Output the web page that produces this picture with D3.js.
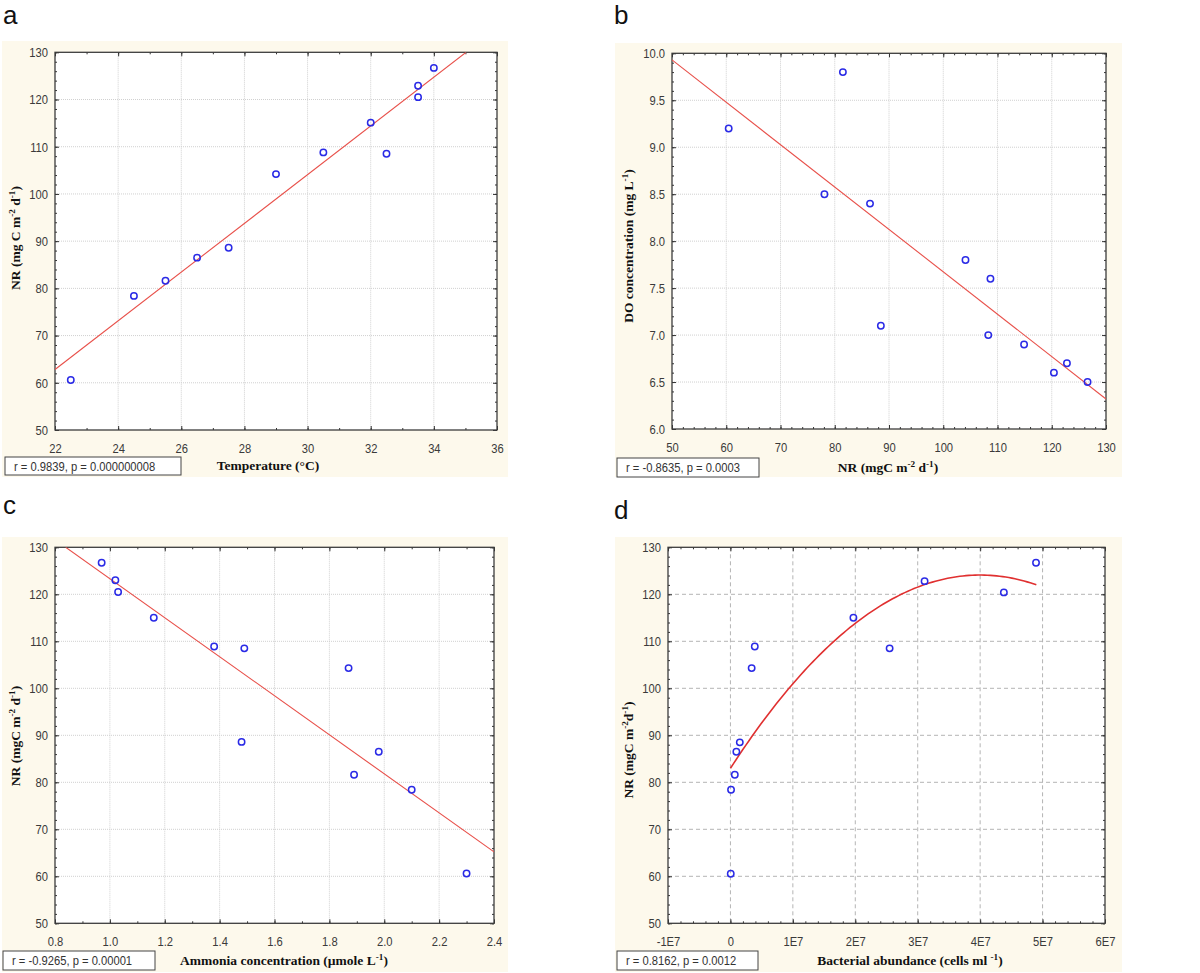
<!DOCTYPE html>
<html><head><meta charset="utf-8">
<script src="https://cdn.jsdelivr.net/npm/d3@7"></script>
<style>body{margin:0;background:#fff}svg{display:block}</style>
</head><body>
<svg id="chart" width="1200" height="973"></svg>
<script>
// ---------- data ----------
const tempA = [22.5, 24.5, 25.5, 26.5, 27.5, 29, 30.5, 32, 32.5, 33.5, 33.5, 34];
const nrA   = [60.6, 78.4, 81.6, 86.5, 88.6, 104.2, 108.8, 115.1, 108.5, 122.9, 120.5, 126.7];
const fitA  = [[22, 62.8], [35.02, 130]];

const nrB   = [60.45, 78.1, 81.5, 86.5, 88.5, 104.1, 108.7, 108.3, 114.9, 120.4, 122.8, 126.6];
const doB   = [9.2, 8.5, 9.8, 8.4, 7.1, 7.8, 7.6, 7.0, 6.9, 6.6, 6.7, 6.5];
const fitB  = [[50, 9.93], [130, 6.32]];

const ammC  = [0.97, 1.02, 1.03, 1.16, 1.38, 1.49, 1.48, 1.87, 1.89, 1.98, 2.10, 2.30];
const nrC   = [126.7, 123.0, 120.5, 115.0, 108.9, 108.5, 88.6, 104.3, 81.6, 86.5, 78.4, 60.6];
const fitC  = [[0.839, 130], [2.4, 65.2]];

const bactD = [0.05e6, 0.1e6, 0.7e6, 0.95e6, 1.5e6, 3.4e6, 3.9e6, 19.7e6, 25.5e6, 31.1e6, 43.8e6, 48.95e6];
const nrD   = [60.55, 78.4, 81.6, 86.5, 88.5, 104.3, 108.9, 115.0, 108.5, 122.8, 120.4, 126.7];
const fitD  = [82.98, 20.56, -2.57];   // quadratic in units of 1E7
const fitDRange = [0, 4.9e7];

const ticksNR   = [50, 60, 70, 80, 90, 100, 110, 120, 130];
const ticksTemp = [22, 24, 26, 28, 30, 32, 34, 36];
const ticksNRx  = [50, 60, 70, 80, 90, 100, 110, 120, 130];
const ticksDO   = [6.0, 6.5, 7.0, 7.5, 8.0, 8.5, 9.0, 9.5, 10.0];
const ticksAmm  = [0.8, 1.0, 1.2, 1.4, 1.6, 1.8, 2.0, 2.2, 2.4];
const ticksBact = [-1e7, 0, 1e7, 2e7, 3e7, 4e7, 5e7, 6e7];
const bactLabels = ["-1E7", "0", "1E7", "2E7", "3E7", "4E7", "5E7", "6E7"];

const statsText = ["r = 0.9839, p = 0.000000008", "r = -0.8635, p = 0.0003", "r = -0.9265, p = 0.00001", "r = 0.8162, p = 0.0012"];
const panelLetters = ["a", "b", "c", "d"];

// ---------- drawing ----------
const svg = d3.select("#chart");
const SERIF = "'Liberation Serif','Times New Roman',serif";
const SANS = "'Liberation Sans',Arial,sans-serif";
const SQX = 0.83;   // horizontal squeeze to mimic the narrow label font

function richText(g, parts) {
  parts.forEach(([t, sup]) => {
    const ts = g.append("tspan").text(t);
    if (sup) ts.attr("baseline-shift", "super").attr("font-size", "0.68em");
  });
}

const panels = [
  { ox: 0, oy: 0, bg: [2, 41, 506, 436], L: 55, R: 497, T: 52.3, B: 430,
    xs: tempA, ys: nrA, xDom: [22, 36], yDom: [50, 130], xt: ticksTemp, yt: ticksNR,
    xMinor: 2, yMinor: 5, xFmt: d => d, yFmt: d => d, grid: "dot",
    fit: fitA, stat: [5, 457, 176, 18], letter: [3, 24],
    xTitle: [["Temperature (°C)", false]], xTitleX: 268, xTitleY: 470,
    yTitle: [["NR (mg C m", false], ["-2", true], [" d", false], ["-1", true], [")", false]], yTitleX: 20, yTitleY: 238 },
  { ox: 600, oy: 0, bg: [15, 43, 507, 434], L: 72, R: 506, T: 53.3, B: 429,
    xs: nrB, ys: doB, xDom: [50, 130], yDom: [6, 10], xt: ticksNRx, yt: ticksDO,
    xMinor: 5, yMinor: 5, xFmt: d => d, yFmt: d3.format(".1f"), grid: "dot",
    fit: fitB, stat: [17, 458, 142, 19], letter: [14, 24],
    xTitle: [["NR (mgC m", false], ["-2", true], [" d", false], ["-1", true], [")", false]], xTitleX: 288, xTitleY: 472,
    yTitle: [["DO concentration (mg L", false], ["-1", true], [")", false]], yTitleX: 33, yTitleY: 246 },
  { ox: 0, oy: 490, bg: [2, 47, 506, 435], L: 55, R: 494, T: 57.3, B: 433.3,
    xs: ammC, ys: nrC, xDom: [0.8, 2.4], yDom: [50, 130], xt: ticksAmm, yt: ticksNR,
    xMinor: 2, yMinor: 5, xFmt: d3.format(".1f"), yFmt: d => d, grid: "dot",
    fit: fitC, stat: [3, 461, 152, 19], letter: [3, 24],
    xTitle: [["Ammonia concentration (µmole L", false], ["-1", true], [")", false]], xTitleX: 284, xTitleY: 475,
    yTitle: [["NR (mgC m", false], ["-2", true], [" d", false], ["-1", true], [")", false]], yTitleX: 20, yTitleY: 246 },
  { ox: 600, oy: 490, bg: [15, 47, 507, 435], L: 68, R: 505, T: 57.3, B: 433.3,
    xs: bactD, ys: nrD, xDom: [-1e7, 6e7], yDom: [50, 130], xt: ticksBact, yt: ticksNR,
    xMinor: 5, yMinor: 5, xFmt: (d, i) => bactLabels[i], yFmt: d => d, grid: "dash",
    fitQuad: fitD, stat: [17, 461, 141, 19], letter: [14, 29],
    xTitle: [["Bacterial abundance (cells ml ", false], ["-1", true], [")", false]], xTitleX: 310, xTitleY: 475,
    yTitle: [["NR (mgC m", false], ["-2", true], ["d", false], ["-1", true], [")", false]], yTitleX: 33, yTitleY: 260 }
];

panels.forEach((p, pi) => {
  const g = svg.append("g").attr("transform", `translate(${p.ox},${p.oy})`);
  g.append("rect").attr("x", p.bg[0]).attr("y", p.bg[1]).attr("width", p.bg[2]).attr("height", p.bg[3])
    .attr("fill", "#fdf9ec");
  g.append("rect").attr("x", p.L).attr("y", p.T).attr("width", p.R - p.L).attr("height", p.B - p.T)
    .attr("fill", "#ffffff");

  const x = d3.scaleLinear().domain(p.xDom).range([p.L, p.R]);
  const y = d3.scaleLinear().domain(p.yDom).range([p.B, p.T]);

  // grid
  const gridStroke = p.grid === "dash" ? "#b4b4b4" : "#d0d0d0";
  const gridDash = p.grid === "dash" ? "4,3" : "1,1";
  const gg = g.append("g");
  p.xt.slice(1, -1).forEach(v => gg.append("line").attr("x1", x(v)).attr("x2", x(v)).attr("y1", p.T).attr("y2", p.B)
    .attr("stroke", gridStroke).attr("stroke-dasharray", gridDash).attr("stroke-width", 1));
  p.yt.slice(1, -1).forEach(v => gg.append("line").attr("y1", y(v)).attr("y2", y(v)).attr("x1", p.L).attr("x2", p.R)
    .attr("stroke", gridStroke).attr("stroke-dasharray", gridDash).attr("stroke-width", 1));

  const axStyle = a => {
    a.select(".domain").remove();
    a.selectAll("line").attr("stroke", "#333").attr("stroke-width", 1);
  };
  const xStep = (p.xt[1] - p.xt[0]) / p.xMinor;
  const yStep = (p.yt[1] - p.yt[0]) / p.yMinor;
  const xMinorVals = d3.range(p.xMinor * (p.xt.length - 1) + 1).map(i => p.xDom[0] + i * xStep);
  const yMinorVals = d3.range(p.yMinor * (p.yt.length - 1) + 1).map(i => p.yDom[0] + i * yStep);

  // minor ticks (inward, all four sides)
  g.append("g").attr("transform", `translate(0,${p.B})`).call(d3.axisTop(x).tickValues(xMinorVals).tickSize(2).tickFormat("")).call(axStyle);
  g.append("g").attr("transform", `translate(0,${p.T})`).call(d3.axisBottom(x).tickValues(xMinorVals).tickSize(2).tickFormat("")).call(axStyle);
  g.append("g").attr("transform", `translate(${p.L},0)`).call(d3.axisRight(y).tickValues(yMinorVals).tickSize(2).tickFormat("")).call(axStyle);
  g.append("g").attr("transform", `translate(${p.R},0)`).call(d3.axisLeft(y).tickValues(yMinorVals).tickSize(2).tickFormat("")).call(axStyle);

  // major ticks + labels
  const xa = g.append("g").attr("transform", `translate(0,${p.B})`)
    .call(d3.axisBottom(x).tickValues(p.xt).tickSizeInner(-4).tickSizeOuter(0).tickPadding(13).tickFormat(p.xFmt)).call(axStyle);
  xa.selectAll("text").attr("font-family", SANS).attr("font-size", 13.5).attr("fill", "#3a3a3a")
    .attr("transform", `scale(${SQX},1)`);
  const ya = g.append("g").attr("transform", `translate(${p.L},0)`)
    .call(d3.axisLeft(y).tickValues(p.yt).tickSizeInner(-4).tickSizeOuter(0).tickPadding(7).tickFormat(p.yFmt)).call(axStyle);
  ya.selectAll("text").attr("font-family", SANS).attr("font-size", 13.5).attr("fill", "#3a3a3a")
    .attr("x", -7 / SQX).attr("transform", `scale(${SQX},1)`);
  g.append("g").attr("transform", `translate(0,${p.T})`).call(d3.axisBottom(x).tickValues(p.xt).tickSize(4).tickFormat("")).call(axStyle);
  g.append("g").attr("transform", `translate(${p.R},0)`).call(d3.axisLeft(y).tickValues(p.yt).tickSize(4).tickFormat("")).call(axStyle);

  // frame
  g.append("rect").attr("x", p.L).attr("y", p.T).attr("width", p.R - p.L).attr("height", p.B - p.T)
    .attr("fill", "none").attr("stroke", "#3c3c3c").attr("stroke-width", 1.3);

  // fit
  const clipId = "clip" + pi;
  g.append("clipPath").attr("id", clipId).append("rect").attr("x", p.L).attr("y", p.T).attr("width", p.R - p.L).attr("height", p.B - p.T);
  const line = d3.line().x(d => x(d[0])).y(d => y(d[1]));
  if (p.fit) {
    g.append("path").attr("d", line(p.fit)).attr("fill", "none").attr("stroke", "#e8504a").attr("stroke-width", 1.1)
      .attr("clip-path", `url(#${clipId})`);
  } else if (p.fitQuad) {
    const c = p.fitQuad;
    const pts = d3.range(0, 101).map(i => {
      const b = fitDRange[0] + (fitDRange[1] - fitDRange[0]) * i / 100;
      const u = b / 1e7;
      return [b, c[0] + c[1] * u + c[2] * u * u];
    });
    g.append("path").attr("d", line(pts)).attr("fill", "none").attr("stroke", "#e03030").attr("stroke-width", 1.6);
  }

  // points
  g.append("g").selectAll("circle").data(p.xs.map((v, i) => [v, p.ys[i]])).join("circle")
    .attr("cx", d => x(d[0])).attr("cy", d => y(d[1])).attr("r", 3.2)
    .attr("fill", "none").attr("stroke", "#2a2ae6").attr("stroke-width", 1.5);

  // stats box
  g.append("rect").attr("x", p.stat[0]).attr("y", p.stat[1]).attr("width", p.stat[2]).attr("height", p.stat[3])
    .attr("fill", "#fff").attr("stroke", "#444").attr("stroke-width", 1);
  g.append("text").attr("transform", `translate(${p.stat[0] + 9},${p.stat[1] + p.stat[3] / 2 + 4.5}) scale(${SQX},1)`)
    .attr("font-family", SANS).attr("font-size", 13.5).attr("fill", "#333").text(statsText[pi]);

  // titles
  const xt = g.append("text").attr("x", p.xTitleX).attr("y", p.xTitleY).attr("text-anchor", "middle")
    .attr("font-family", SERIF).attr("font-weight", "bold").attr("font-size", 13.5).attr("fill", "#111");
  richText(xt, p.xTitle);
  const yt = g.append("text").attr("transform", `translate(${p.yTitleX},${p.yTitleY}) rotate(-90)`).attr("text-anchor", "middle")
    .attr("font-family", SERIF).attr("font-weight", "bold").attr("font-size", 13.5).attr("fill", "#111");
  richText(yt, p.yTitle);

  // panel letter
  g.append("text").attr("x", p.letter[0]).attr("y", p.letter[1]).attr("font-family", SANS).attr("font-size", 26)
    .attr("fill", "#111").text(panelLetters[pi]);
});
</script>
</body></html>
